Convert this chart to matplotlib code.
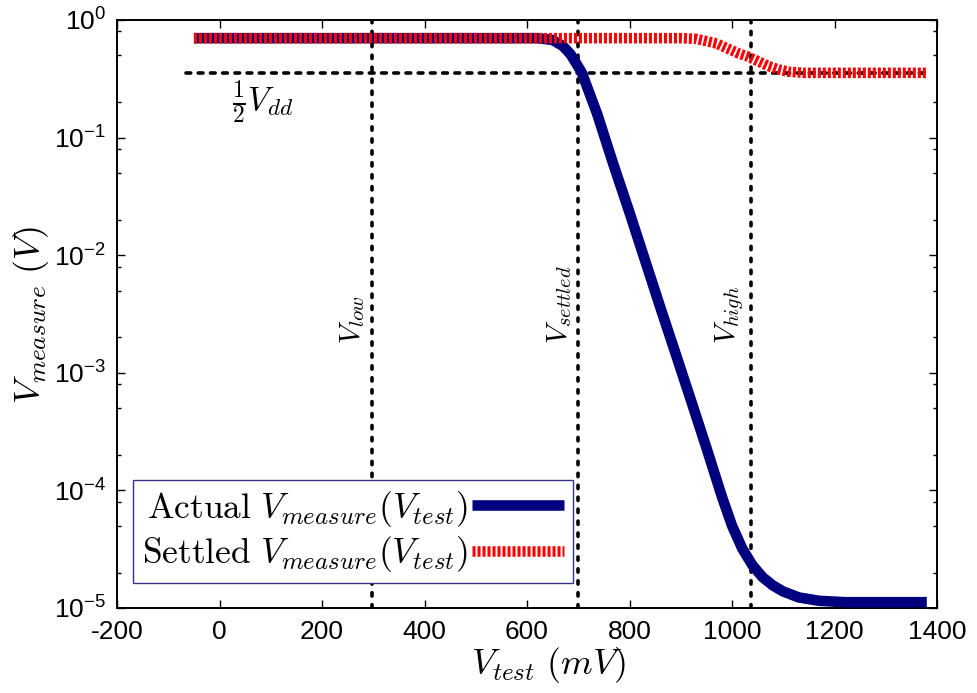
"""Actual vs settled V_measure sweep over V_test, log-scale, gnuplot look."""

import matplotlib

matplotlib.use("Agg")
import matplotlib.pyplot as plt

plt.rcParams["mathtext.fontset"] = "cm"
plt.rcParams["mathtext.rm"] = "Liberation Sans"
plt.rcParams["font.family"] = ["Liberation Sans", "DejaVu Sans"]
plt.rcParams["lines.scale_dashes"] = False

# values
v_test_actual = [-50, 620, 650, 670, 685, 697, 707, 737, 768, 800, 830, 860, 890,
                 920, 950, 980, 1000, 1020, 1040, 1060, 1080, 1100, 1130, 1170, 1220, 1380]
v_meas_actual = [0.70, 0.70, 0.676, 0.60, 0.51, 0.42, 0.355, 0.158, 0.060, 0.023,
                 9.1e-3, 3.6e-3, 1.45e-3, 5.8e-4, 2.3e-4, 8.9e-5, 5.0e-5, 3.2e-5,
                 2.3e-5, 1.82e-5, 1.55e-5, 1.38e-5, 1.23e-5, 1.15e-5, 1.12e-5, 1.12e-5]

v_test_settled = [-50, 900, 930, 950, 970, 990, 1010, 1030, 1050, 1070, 1090, 1110, 1140, 1380]
v_meas_settled = [0.70, 0.70, 0.69, 0.66, 0.63, 0.575, 0.525, 0.49, 0.447, 0.407,
                  0.38, 0.363, 0.355, 0.355]

half_vdd = 0.356
hline_span = [-65, 1378]
v_marks = [297, 700, 1037]
v_mark_names = [r"$V_{low}$", r"$V_{settled}$", r"$V_{high}$"]

x_ticks = list(range(-200, 1401, 200))
y_ticks = [1e-5, 1e-4, 1e-3, 1e-2, 1e-1, 1e0]
y_tick_labels = [r"$\mathrm{10^{-5}}$", r"$\mathrm{10^{-4}}$", r"$\mathrm{10^{-3}}$",
                 r"$\mathrm{10^{-2}}$", r"$\mathrm{10^{-1}}$", r"$\mathrm{10^{0}}$"]
y_minor = [m * 10.0 ** e for e in range(-5, 0) for m in (2, 5, 8)]

NAVY = "#00007f"
RED = "#ff0000"

fig = plt.figure(figsize=(9.77, 6.93), dpi=100)
ax = fig.add_axes([0.1198, 0.1227, 0.8393, 0.8485])

black_dash = dict(color="black", lw=2.6, dash_capstyle="round")
for x in v_marks:
    ax.plot([x, x], [1e-5, 1.0], dashes=(2.4, 6.2), zorder=2, **black_dash)
ax.plot(hline_span, [half_vdd, half_vdd], dashes=(3.4, 5.4), zorder=2, **black_dash)

ax.plot(v_test_actual, v_meas_actual, color=NAVY, lw=7.6, solid_capstyle="butt",
        solid_joinstyle="round", label=r"$\mathrm{Actual}\ V_{measure}(V_{test})$", zorder=3)
ax.plot(v_test_settled, v_meas_settled, color=RED, lw=7.6, dashes=(2.2, 1.4),
        dash_capstyle="butt", label=r"$\mathrm{Settled}\ V_{measure}(V_{test})$", zorder=4)

ax.text(24, 0.2, r"$\frac{1}{2}V_{dd}$", fontsize=24, ha="left", va="center")
for x, name in zip(v_marks, v_mark_names):
    ax.text(x - 9, 1.75e-3, name, fontsize=21, rotation=90, ha="right", va="bottom")

ax.set_xlim(-200, 1400)
ax.set_yscale("log")
ax.set_ylim(1e-5, 1.0)
ax.set_xticks(x_ticks, labels=[str(t) for t in x_ticks])
ax.set_yticks(y_ticks, labels=y_tick_labels, math_fontfamily="custom")
ax.set_yticks(y_minor, minor=True)
ax.xaxis.set_minor_locator(matplotlib.ticker.NullLocator())
ax.tick_params(which="both", direction="in", top=True, right=True, labelsize=19, width=1.0)
ax.tick_params(which="major", length=5.8)
ax.tick_params(axis="x", which="major", pad=9)
ax.tick_params(axis="y", which="major", pad=8)
ax.tick_params(which="minor", length=2.9)
for sp in ax.spines.values():
    sp.set_linewidth(1.4)

ax.set_xlabel(r"$V_{test}\ (mV)$", fontsize=26)
ax.set_ylabel(r"$V_{measure}\ (V)$", fontsize=26)
ax.xaxis.set_label_coords(0.526, -0.063)
ax.yaxis.set_label_coords(-0.08, 0.498)

leg = ax.legend(loc="lower left", bbox_to_anchor=(0.0195, 0.0425), borderaxespad=0,
                markerfirst=False, fontsize=25.5, fancybox=False, handlelength=2.6,
                handletextpad=0.12, labelspacing=0.15, borderpad=0.25,
                framealpha=1.0, edgecolor="#333388")
leg.get_frame().set_linewidth(1.0)

fig.savefig("out.png", dpi=100)
